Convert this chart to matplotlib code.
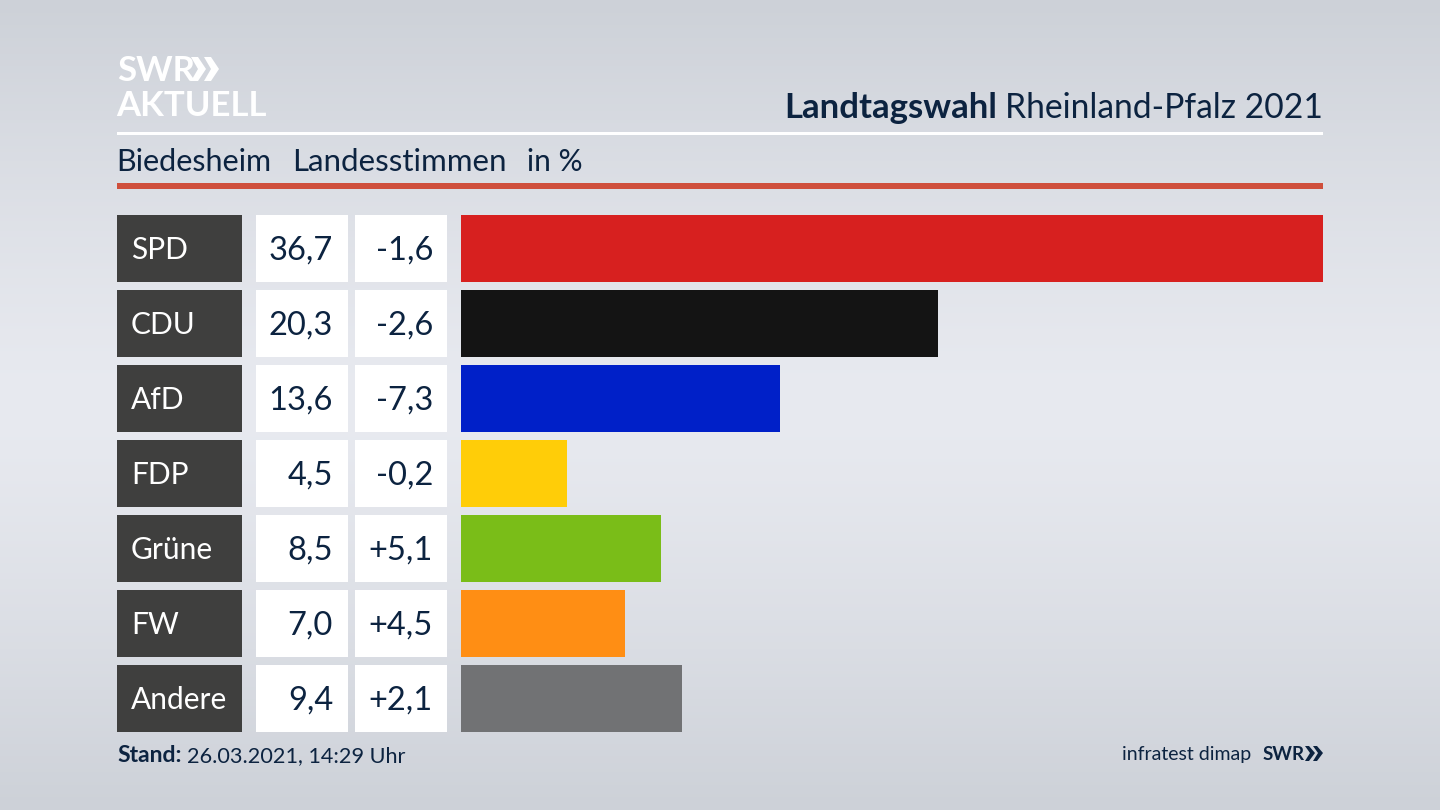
import numpy as np
import matplotlib.pyplot as plt
from matplotlib.patches import Rectangle, Polygon

plt.rcParams['font.family'] = ['Lato', 'DejaVu Sans']

parties = ['SPD', 'CDU', 'AfD', 'FDP', 'Grüne', 'FW', 'Andere']
shares = [36.7, 20.3, 13.6, 4.5, 8.5, 7.0, 9.4]
share_labels = ['36,7', '20,3', '13,6', '4,5', '8,5', '7,0', '9,4']
diff_labels = ['-1,6', '-2,6', '-7,3', '-0,2', '+5,1', '+4,5', '+2,1']
colors = ['#d7201f', '#141414', '#0020c8', '#ffcd08', '#7abd18', '#ff8e14', '#717274']

navy = '#0c2340'

fig = plt.figure(figsize=(14.4, 8.1), dpi=100)

# background, pixel coordinates
bg = fig.add_axes([0, 0, 1, 1])
bg.set_xlim(0, 1440)
bg.set_ylim(810, 0)
bg.axis('off')
top = np.array([205, 209, 216]) / 255
mid = np.array([232, 234, 240]) / 255
t = np.abs(np.linspace(-1, 1, 256)) ** 1.3
grad = (mid[None, :] * (1 - t[:, None]) + top[None, :] * t[:, None])[:, None, :]
bg.imshow(grad, extent=[0, 1440, 810, 0], aspect='auto', zorder=0)

# header
bg.add_patch(Rectangle((117, 132), 1206, 3, color='white', lw=0, zorder=1))
bg.add_patch(Rectangle((117, 183), 1206, 6, color='#cf4f3c', lw=0, zorder=1))
bg.text(116, 171, 'Biedesheim', fontsize=22, color=navy, va='baseline')
bg.text(292, 171, 'Landesstimmen', fontsize=22.5, color=navy, va='baseline')
bg.text(527, 171, 'in %', fontsize=21.5, color=navy, va='baseline')
t1 = bg.text(1323, 118, 'Rheinland-Pfalz 2021', fontsize=24.2, color=navy, va='baseline', ha='right')
fig.canvas.draw()
x0 = bg.transData.inverted().transform(t1.get_window_extent().get_points())[0, 0]
bg.text(x0 - 8, 118, 'Landtagswahl', fontsize=25, color=navy, va='baseline', ha='right', fontweight='bold')

# logo
bg.text(117, 81, 'SWR', fontsize=25, color='white', fontweight='bold', va='baseline')
bg.text(116, 116, 'AKTUELL', fontsize=25, color='white', fontweight='bold', va='baseline')
for dx in (0, 13):
    bg.add_patch(Polygon([[191+dx, 57], [198+dx, 57], [206+dx, 69], [198+dx, 81], [191+dx, 81], [198+dx, 69]], color='white', lw=0))

# rows
row_top = [215, 290, 365, 440, 515, 590, 665]
row_h = 66.5
for i, p in enumerate(parties):
    y = row_top[i]
    bg.add_patch(Rectangle((117, y), 124.5, row_h, color='#3f3f3e', lw=0))
    bg.add_patch(Rectangle((255.5, y), 92.5, row_h, color='white', lw=0))
    bg.add_patch(Rectangle((354.5, y), 92.5, row_h, color='white', lw=0))
    bg.text(131, y + 44, p, fontsize=21.5, color='white', va='baseline')
    bg.text(333, y + 45, share_labels[i], fontsize=23.5, color=navy, va='baseline', ha='right')
    bg.text(433, y + 45, diff_labels[i], fontsize=23.5, color=navy, va='baseline', ha='right')

# bars
ax = fig.add_axes([461 / 1440, 0, (1323 - 461) / 1440, 1])
ax.set_xlim(0, 36.7)
ax.set_ylim(810, 0)
ax.axis('off')
ax.patch.set_alpha(0)
ax.barh([y + row_h / 2 for y in row_top], shares, height=row_h, color=colors)

# footer
bg.text(117, 762, 'Stand:', fontsize=16.5, color=navy, fontweight='bold', va='baseline')
bg.text(187, 762, '26.03.2021, 14:29 Uhr', fontsize=15.6, color=navy, va='baseline')
bg.text(1251, 760, 'infratest dimap', fontsize=14, color=navy, va='baseline', ha='right')
bg.text(1263, 760, 'SWR', fontsize=13.5, color=navy, fontweight='bold', va='baseline')
for dx in (0, 8):
    bg.add_patch(Polygon([[1305+dx, 746], [1309+dx, 746], [1315+dx, 753], [1309+dx, 761], [1305+dx, 761], [1310+dx, 753]], color=navy, lw=0))

fig.savefig('out.png', dpi=100)
